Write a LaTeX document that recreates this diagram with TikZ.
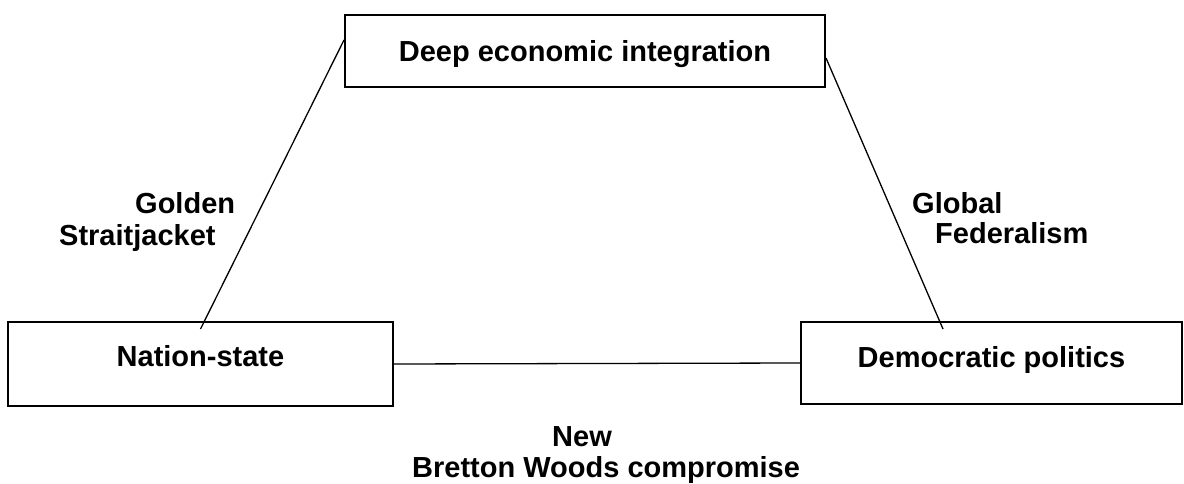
\documentclass[tikz,border=0pt]{standalone}
\usepackage{fontspec}
\setmainfont{Liberation Sans}
\begin{document}
\begin{tikzpicture}[x=1pt,y=-1pt,
  box/.style={draw, line width=2pt, rectangle, inner sep=0pt, font=\fontsize{29}{34}\selectfont\bfseries},
  lbl/.style={anchor=base west, inner sep=0pt, font=\fontsize{29}{34}\selectfont\bfseries},
  link/.style={line width=1.3pt}]
\useasboundingbox (0,0) rectangle (1184,484);
\fill[white] (0,0) rectangle (1184,484);
\clip (0,0) rectangle (1184,484);
\node[box, minimum width=480pt, minimum height=72pt, text height=21pt, text depth=0pt] (top) at (585,51) {Deep economic integration};
\node[box, minimum width=385pt, minimum height=84pt, text height=21pt, text depth=16pt] (ns) at (200.5,364) {Nation-state};
\node[box, minimum width=381pt, minimum height=82pt, text height=21pt, text depth=12pt] (dp) at (991.5,363) {Democratic politics};
\draw[link] ([yshift=11pt]top.west) -- ([yshift=-8pt]ns.north);
\draw[link] ([yshift=-7pt]top.east) -- ([xshift=143pt,yshift=-8pt]dp.north west);
\draw[link] (ns.east) -- (dp.west);
\node[lbl] (g1) at (135,213) {Golden};
\node[lbl] (g2) at (59,245) {Straitjacket};
\node[lbl] (f1) at (912,214) {Global};
\node[lbl] (f2) at (935,243) {Federalism};
\node[lbl] (n1) at (552,446) {New};
\node[lbl] (n2) at (412,477) {Bretton Woods compromise};
\end{tikzpicture}
\end{document}
